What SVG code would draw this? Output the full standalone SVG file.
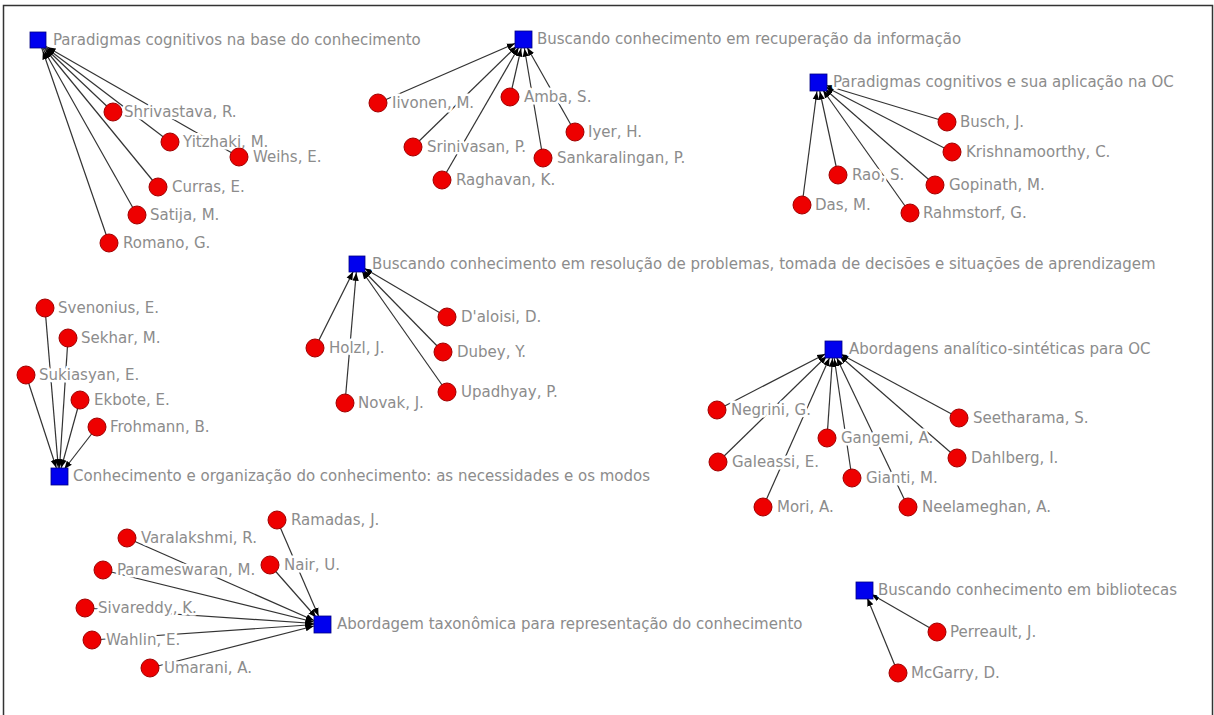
<svg xmlns="http://www.w3.org/2000/svg" width="1214" height="715" viewBox="0 0 1214 715">
<style>
.frame{fill:#fff;stroke:#333;stroke-width:1.5}
.e{stroke:#333;stroke-width:1.2;fill:none;marker-end:url(#arr)}
.sq{fill:#0000ee;stroke:#000080;stroke-width:0.8}
.c{fill:#ee0000;stroke:#a00000;stroke-width:1}
text{font-family:"DejaVu Sans",Verdana,sans-serif;font-size:15px;fill:#8c8c8c;stroke:#fff;stroke-width:5px;stroke-linejoin:round;paint-order:stroke}
</style>
<defs>
<marker id="arr" viewBox="0 0 10 10" markerUnits="userSpaceOnUse" markerWidth="8" markerHeight="8" refX="21" refY="5" orient="auto">
<path d="M0,1 L10,5 L0,9 z" fill="#000"/>
</marker>
</defs>
<rect class="frame" x="3.5" y="5.5" width="1209" height="720"/>
<g id="edges">
<line class="e" x1="113" y1="112" x2="40" y2="43"/>
<line class="e" x1="170" y1="142" x2="40" y2="43"/>
<line class="e" x1="239" y1="157" x2="40" y2="43"/>
<line class="e" x1="158" y1="187" x2="40" y2="43"/>
<line class="e" x1="137" y1="215" x2="40" y2="43"/>
<line class="e" x1="109" y1="243" x2="40" y2="43"/>
<line class="e" x1="378" y1="103" x2="523" y2="40"/>
<line class="e" x1="413" y1="147" x2="523" y2="40"/>
<line class="e" x1="442" y1="180" x2="523" y2="40"/>
<line class="e" x1="510" y1="97" x2="523" y2="40"/>
<line class="e" x1="575" y1="132" x2="523" y2="40"/>
<line class="e" x1="543" y1="158" x2="523" y2="40"/>
<line class="e" x1="947" y1="122" x2="818" y2="83"/>
<line class="e" x1="952" y1="152" x2="818" y2="83"/>
<line class="e" x1="838" y1="175" x2="818" y2="83"/>
<line class="e" x1="935" y1="185" x2="818" y2="83"/>
<line class="e" x1="802" y1="205" x2="818" y2="83"/>
<line class="e" x1="910" y1="213" x2="818" y2="83"/>
<line class="e" x1="447" y1="317" x2="357" y2="264"/>
<line class="e" x1="315" y1="348" x2="357" y2="264"/>
<line class="e" x1="443" y1="352" x2="357" y2="264"/>
<line class="e" x1="447" y1="392" x2="357" y2="264"/>
<line class="e" x1="345" y1="403" x2="357" y2="264"/>
<line class="e" x1="45" y1="308" x2="59" y2="476"/>
<line class="e" x1="68" y1="338" x2="59" y2="476"/>
<line class="e" x1="26" y1="375" x2="59" y2="476"/>
<line class="e" x1="80" y1="400" x2="59" y2="476"/>
<line class="e" x1="97" y1="427" x2="59" y2="476"/>
<line class="e" x1="717" y1="410" x2="833" y2="350"/>
<line class="e" x1="718" y1="462" x2="833" y2="350"/>
<line class="e" x1="763" y1="507" x2="833" y2="350"/>
<line class="e" x1="827" y1="438" x2="833" y2="350"/>
<line class="e" x1="852" y1="478" x2="833" y2="350"/>
<line class="e" x1="908" y1="507" x2="833" y2="350"/>
<line class="e" x1="959" y1="418" x2="833" y2="350"/>
<line class="e" x1="957" y1="458" x2="833" y2="350"/>
<line class="e" x1="277" y1="520" x2="322" y2="624"/>
<line class="e" x1="127" y1="538" x2="322" y2="624"/>
<line class="e" x1="270" y1="565" x2="322" y2="624"/>
<line class="e" x1="103" y1="570" x2="322" y2="624"/>
<line class="e" x1="85" y1="608" x2="322" y2="624"/>
<line class="e" x1="92" y1="640" x2="322" y2="624"/>
<line class="e" x1="150" y1="668" x2="322" y2="624"/>
<line class="e" x1="937" y1="632" x2="864" y2="590"/>
<line class="e" x1="898" y1="673" x2="864" y2="590"/>
</g>
<g id="topic-paradigmas-base"><rect class="sq" x="30" y="32" width="16" height="16"/><text x="53" y="45">Paradigmas cognitivos na base do conhecimento</text></g>
<g id="n-shrivastava"><circle class="c" cx="113" cy="112" r="9"/><text x="124" y="117">Shrivastava, R.</text></g>
<g id="n-yitzhaki"><circle class="c" cx="170" cy="142" r="9"/><text x="183" y="147">Yitzhaki, M.</text></g>
<g id="n-weihs"><circle class="c" cx="239" cy="157" r="9"/><text x="253" y="162">Weihs, E.</text></g>
<g id="n-curras"><circle class="c" cx="158" cy="187" r="9"/><text x="172" y="192">Curras, E.</text></g>
<g id="n-satija"><circle class="c" cx="137" cy="215" r="9"/><text x="150" y="220">Satija, M.</text></g>
<g id="n-romano"><circle class="c" cx="109" cy="243" r="9"/><text x="123" y="248">Romano, G.</text></g>

<g id="topic-recuperacao"><rect class="sq" x="515" y="31" width="17" height="17"/><text x="537" y="44">Buscando conhecimento em recuperação da informação</text></g>
<g id="n-iivonen"><circle class="c" cx="378" cy="103" r="9"/><text x="392" y="108">Iivonen, M.</text></g>
<g id="n-srinivasan"><circle class="c" cx="413" cy="147" r="9"/><text x="427" y="152">Srinivasan, P.</text></g>
<g id="n-raghavan"><circle class="c" cx="442" cy="180" r="9"/><text x="456" y="185">Raghavan, K.</text></g>
<g id="n-amba"><circle class="c" cx="510" cy="97" r="9"/><text x="524" y="102">Amba, S.</text></g>
<g id="n-iyer"><circle class="c" cx="575" cy="132" r="9"/><text x="588" y="137">Iyer, H.</text></g>
<g id="n-sankaralingan"><circle class="c" cx="543" cy="158" r="9"/><text x="557" y="163">Sankaralingan, P.</text></g>

<g id="topic-paradigmas-oc"><rect class="sq" x="810" y="74" width="17" height="17"/><text x="833" y="87">Paradigmas cognitivos e sua aplicação na OC</text></g>
<g id="n-busch"><circle class="c" cx="947" cy="122" r="9"/><text x="960" y="127">Busch, J.</text></g>
<g id="n-krishnamoorthy"><circle class="c" cx="952" cy="152" r="9"/><text x="966" y="157">Krishnamoorthy, C.</text></g>
<g id="n-rao"><circle class="c" cx="838" cy="175" r="9"/><text x="852" y="180">Rao, S.</text></g>
<g id="n-gopinath"><circle class="c" cx="935" cy="185" r="9"/><text x="949" y="190">Gopinath, M.</text></g>
<g id="n-das"><circle class="c" cx="802" cy="205" r="9"/><text x="815" y="210">Das, M.</text></g>
<g id="n-rahmstorf"><circle class="c" cx="910" cy="213" r="9"/><text x="923" y="218">Rahmstorf, G.</text></g>

<g id="topic-resolucao"><rect class="sq" x="349" y="256" width="16" height="16"/><text x="372" y="269">Buscando conhecimento em resolução de problemas, tomada de decisões e situações de aprendizagem</text></g>
<g id="n-daloisi"><circle class="c" cx="447" cy="317" r="9"/><text x="461" y="322">D'aloisi, D.</text></g>
<g id="n-holzl"><circle class="c" cx="315" cy="348" r="9"/><text x="329" y="353">Holzl, J.</text></g>
<g id="n-dubey"><circle class="c" cx="443" cy="352" r="9"/><text x="457" y="357">Dubey, Y.</text></g>
<g id="n-upadhyay"><circle class="c" cx="447" cy="392" r="9"/><text x="461" y="397">Upadhyay, P.</text></g>
<g id="n-novak"><circle class="c" cx="345" cy="403" r="9"/><text x="358" y="408">Novak, J.</text></g>

<g id="topic-conhecimento-org"><rect class="sq" x="51" y="468" width="17" height="17"/><text x="73" y="481">Conhecimento e organização do conhecimento: as necessidades e os modos</text></g>
<g id="n-svenonius"><circle class="c" cx="45" cy="308" r="9"/><text x="58" y="313">Svenonius, E.</text></g>
<g id="n-sekhar"><circle class="c" cx="68" cy="338" r="9"/><text x="81" y="343">Sekhar, M.</text></g>
<g id="n-sukiasyan"><circle class="c" cx="26" cy="375" r="9"/><text x="39" y="380">Sukiasyan, E.</text></g>
<g id="n-ekbote"><circle class="c" cx="80" cy="400" r="9"/><text x="94" y="405">Ekbote, E.</text></g>
<g id="n-frohmann"><circle class="c" cx="97" cy="427" r="9"/><text x="110" y="432">Frohmann, B.</text></g>

<g id="topic-analitico"><rect class="sq" x="825" y="341" width="17" height="17"/><text x="849" y="354">Abordagens analítico-sintéticas para OC</text></g>
<g id="n-negrini"><circle class="c" cx="717" cy="410" r="9"/><text x="731" y="415">Negrini, G.</text></g>
<g id="n-galeassi"><circle class="c" cx="718" cy="462" r="9"/><text x="732" y="467">Galeassi, E.</text></g>
<g id="n-mori"><circle class="c" cx="763" cy="507" r="9"/><text x="777" y="512">Mori, A.</text></g>
<g id="n-gangemi"><circle class="c" cx="827" cy="438" r="9"/><text x="841" y="443">Gangemi, A.</text></g>
<g id="n-gianti"><circle class="c" cx="852" cy="478" r="9"/><text x="866" y="483">Gianti, M.</text></g>
<g id="n-neelameghan"><circle class="c" cx="908" cy="507" r="9"/><text x="922" y="512">Neelameghan, A.</text></g>
<g id="n-seetharama"><circle class="c" cx="959" cy="418" r="9"/><text x="973" y="423">Seetharama, S.</text></g>
<g id="n-dahlberg"><circle class="c" cx="957" cy="458" r="9"/><text x="971" y="463">Dahlberg, I.</text></g>

<g id="topic-taxonomica"><rect class="sq" x="314" y="616" width="17" height="17"/><text x="337" y="629">Abordagem taxonômica para representação do conhecimento</text></g>
<g id="n-ramadas"><circle class="c" cx="277" cy="520" r="9"/><text x="291" y="525">Ramadas, J.</text></g>
<g id="n-varalakshmi"><circle class="c" cx="127" cy="538" r="9"/><text x="141" y="543">Varalakshmi, R.</text></g>
<g id="n-nair"><circle class="c" cx="270" cy="565" r="9"/><text x="284" y="570">Nair, U.</text></g>
<g id="n-parameswaran"><circle class="c" cx="103" cy="570" r="9"/><text x="117" y="575">Parameswaran, M.</text></g>
<g id="n-sivareddy"><circle class="c" cx="85" cy="608" r="9"/><text x="98" y="613">Sivareddy, K.</text></g>
<g id="n-wahlin"><circle class="c" cx="92" cy="640" r="9"/><text x="106" y="645">Wahlin, E.</text></g>
<g id="n-umarani"><circle class="c" cx="150" cy="668" r="9"/><text x="164" y="673">Umarani, A.</text></g>

<g id="topic-bibliotecas"><rect class="sq" x="856" y="582" width="17" height="17"/><text x="878" y="595">Buscando conhecimento em bibliotecas</text></g>
<g id="n-perreault"><circle class="c" cx="937" cy="632" r="9"/><text x="950" y="637">Perreault, J.</text></g>
<g id="n-mcgarry"><circle class="c" cx="898" cy="673" r="9"/><text x="911" y="678">McGarry, D.</text></g>
</svg>
